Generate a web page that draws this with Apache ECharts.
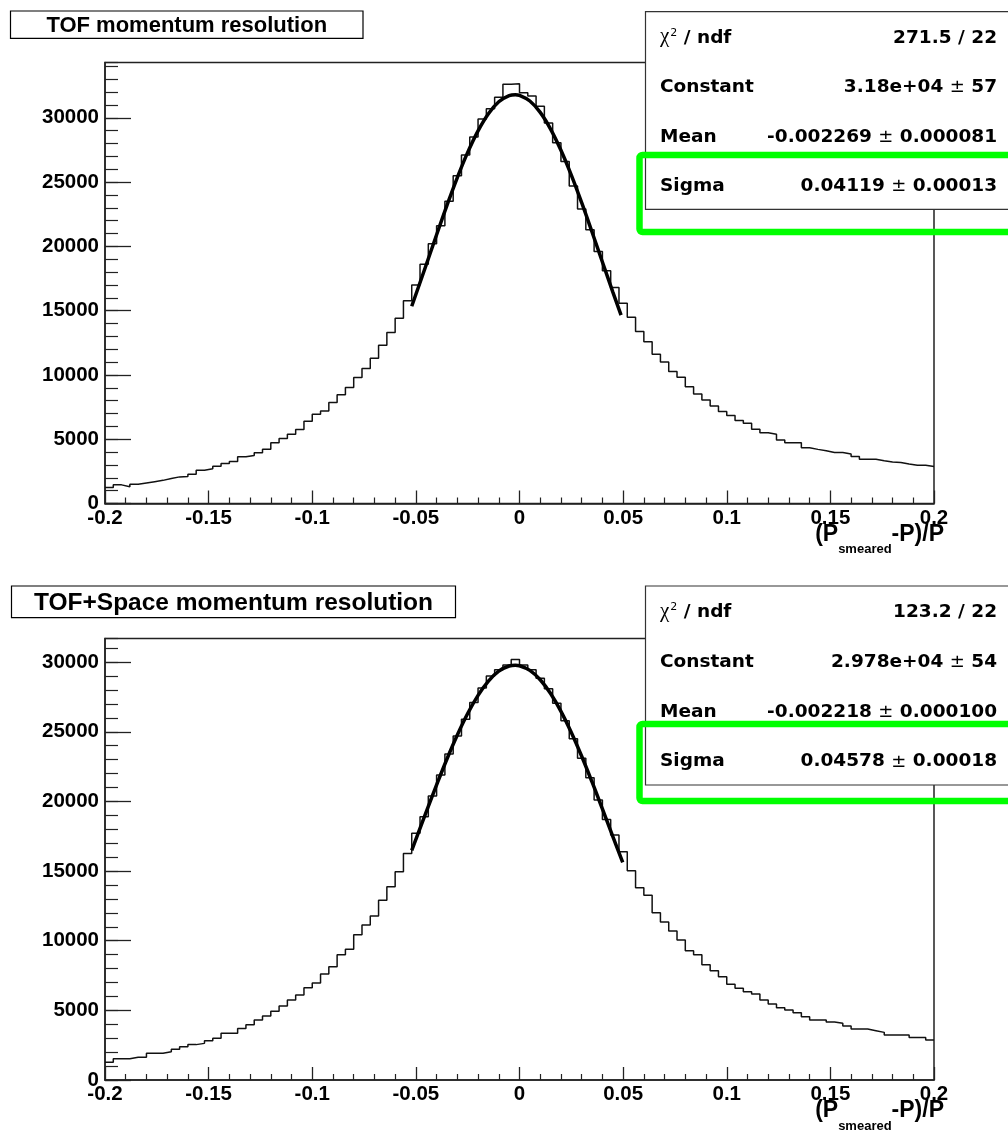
<!DOCTYPE html>
<html><head><meta charset="utf-8">
<script src="https://cdn.jsdelivr.net/npm/echarts@6/dist/echarts.min.js"></script>
<style>html,body{margin:0;padding:0;background:#fff;}#c{width:1008px;height:1132px;}</style>
</head><body><div id="c"></div>
<script>
// ---- data ----
const binLow = -0.2;
const binWidth = 0.004;
const topCounts = [1250,1450,1300,1500,1600,1700,1800,1950,2070,2100,
  2280,2590,2700,2900,3110,3270,3630,3730,3940,4220,
  4720,5050,5390,5760,6400,6950,7200,7860,8450,9030,
  9800,10500,11300,12300,13300,14410,15760,17000,18600,20200,
  21600,23500,25500,27100,28500,29900,30700,31600,32600,32650,
  31950,31700,30900,29600,28050,26600,24700,22900,21300,19600,
  18100,16800,15580,14490,13370,12590,11610,11010,10260,9820,
  9090,8520,8050,7590,7150,6840,6450,6240,5770,5510,
  5380,4940,4730,4730,4340,4210,4110,3960,3960,3850,
  3650,3440,3440,3330,3230,3180,3070,2970,2970,2870];
const bottomCounts = [1270,1530,1530,1630,1630,1915,1915,2030,2200,2390,
  2540,2630,2820,2990,3350,3350,3690,3970,4310,4590,
  4930,5310,5740,6100,6630,6960,7610,8140,9000,9380,
  10430,11130,11770,12900,13880,14950,16270,17710,18900,20400,
  21900,23400,24700,25900,27100,28150,29000,29450,29800,30200,
  29800,29450,28850,28100,27050,25800,24500,23100,21700,20100,
  18700,17600,16390,15030,13810,13260,12010,11340,10700,10050,
  9285,9000,8280,7850,7420,6870,6580,6340,6170,5740,
  5460,5190,5030,4830,4550,4310,4310,4160,4070,3880,
  3660,3660,3540,3420,3230,3230,3230,3060,3060,2870];
const topFitX = [-0.052,-0.045,-0.04,-0.035,-0.03,-0.025,-0.02,-0.015,-0.01,-0.005,-0.002,0,0.005,0.01,0.015,0.02,0.025,0.03,0.035,0.04,0.045,0.049];
const topFitY = [15340,18568,20905,23192,25354,27310,28986,30318,31244,31730,31800,31752,31307,30420,29125,27476,25542,23395,21115,18781,16463,14657];
const bottomFitX = [-0.052,-0.045,-0.04,-0.035,-0.03,-0.025,-0.02,-0.015,-0.01,-0.005,-0.002,0,0.005,0.01,0.015,0.02,0.025,0.03,0.035,0.04,0.045,0.0498];
const bottomFitY = [16490,19244,21185,23047,24771,26314,27618,28643,29354,29725,29780,29745,29411,28738,27746,26472,24956,23249,21400,19464,17496,15622];
const topTitle = 'TOF momentum resolution';
const bottomTitle = 'TOF+Space momentum resolution';
const xTitleParts = ['(P', 'smeared', '-P)/P'];
const statLabels = ['chi2', 'Constant', 'Mean', 'Sigma'];
const topStatValues = ['271.5 / 22', '3.18e+04 ± 57', '-0.002269 ± 0.000081', '0.04119 ± 0.00013'];
const bottomStatValues = ['123.2 / 22', '2.978e+04 ± 54', '-0.002218 ± 0.000100', '0.04578 ± 0.00018'];
const xMin = -0.2, xMax = 0.2;
const topYMax = 34300, bottomYMax = 31700;

// ---- helpers ----
const SANS = 'Liberation Sans, Arial, sans-serif';
const STAT = 'DejaVu Sans, sans-serif';
const INK = '#111';
const FRAME = '#222';

function histData(counts) {
  const d = counts.map((v, i) => [+(binLow + i * binWidth).toFixed(4), v]);
  d.push([xMax, counts[counts.length - 1]]);
  return d;
}
function zip(xs, ys) { return xs.map((x, i) => [x, ys[i]]); }

function xAxisOpt(gridIndex) {
  return {
    type: 'value', gridIndex, min: xMin, max: xMax, interval: 0.05,
    axisLine: { show: true, onZero: false, lineStyle: { color: FRAME, width: 1.5 } },
    axisTick: { show: true, inside: true, length: 13, lineStyle: { color: FRAME, width: 1.3 } },
    minorTick: { show: true, splitNumber: 5, length: 6, lineStyle: { color: FRAME, width: 1.2 } },
    splitLine: { show: false },
    axisLabel: { color: '#000', fontFamily: SANS, fontWeight: 'bold', fontSize: 20.5, margin: 4,
      formatter: v => String(+v.toFixed(3)) }
  };
}
function yAxisMain(gridIndex, max) {
  return {
    type: 'value', gridIndex, position: 'left', min: 0, max, interval: 5000,
    axisLine: { show: true, onZero: false, lineStyle: { color: FRAME, width: 1.5 } },
    axisTick: { show: true, inside: true, length: 26, lineStyle: { color: FRAME, width: 1.3 } },
    splitLine: { show: false },
    axisLabel: { color: '#000', fontFamily: SANS, fontWeight: 'bold', fontSize: 20.5, margin: 6,
      showMaxLabel: false, formatter: v => String(v) }
  };
}
function yAxisMinor(gridIndex, max) {
  return {
    type: 'value', gridIndex, position: 'left', offset: 0, min: 0, max, interval: 1000,
    axisLine: { show: false, onZero: false },
    axisTick: { show: true, inside: true, length: 13, lineStyle: { color: FRAME, width: 1.2 } },
    splitLine: { show: false }, axisLabel: { show: false }
  };
}

function statText(v) {
  const parts = v.split(' ± ');
  if (parts.length === 2) return '{v|' + parts[0] + ' }{pm|±}{v| ' + parts[1] + '}';
  return '{v|' + v + '}';
}
function labelText(l) {
  if (l === 'chi2') return '{c|χ}{sup|2}{b| / ndf}';
  return '{b|' + l + '}';
}
const richStat = {
  b: { fontFamily: STAT, fontWeight: 'bold', fontSize: 18.5, lineHeight: 22, color: '#000', verticalAlign: 'bottom' },
  v: { fontFamily: STAT, fontWeight: 'bold', fontSize: 18.5, lineHeight: 22, color: '#000', verticalAlign: 'bottom' },
  pm: { fontFamily: 'DejaVu Sans, sans-serif', fontWeight: 'normal', fontSize: 18, lineHeight: 22, color: '#000', verticalAlign: 'bottom' },
  c: { fontFamily: 'Liberation Serif, serif', fontWeight: 'normal', fontSize: 21, lineHeight: 22, color: '#000', verticalAlign: 'bottom' },
  sup: { fontFamily: STAT, fontWeight: 'normal', fontSize: 11, lineHeight: 12, padding: [0, 0, 9, 1], color: '#000', verticalAlign: 'bottom' }
};
const richAxisTitle = {
  a: { fontFamily: SANS, fontWeight: 'bold', fontSize: 23, lineHeight: 26, color: '#000', verticalAlign: 'top' },
  s: { fontFamily: SANS, fontWeight: 'bold', fontSize: 13, lineHeight: 13, color: '#000', verticalAlign: 'top', padding: [20, 0, 0, 0] }
};

function statsBox(y0, h, values) {
  const els = [];
  els.push({ type: 'rect', z: 100, shape: { x: 645.5, y: y0, width: 420, height: h },
    style: { fill: '#fff', stroke: '#333', lineWidth: 1.2 } });
  for (let i = 0; i < 4; i++) {
    const cy = y0 + h / 8 * (2 * i + 1);
    els.push({ type: 'text', z: 101, x: 660, y: cy,
      style: { text: labelText(statLabels[i]), rich: richStat, align: 'left', verticalAlign: 'middle' } });
    els.push({ type: 'text', z: 101, x: 997, y: cy,
      style: { text: statText(values[i]), rich: richStat, align: 'right', verticalAlign: 'middle' } });
  }
  return els;
}
function titleBox(x, y, w, h, text, size) {
  return [
    { type: 'rect', z: 100, shape: { x, y, width: w, height: h },
      style: { fill: '#fff', stroke: '#000', lineWidth: 1.2 } },
    { type: 'text', z: 101, x: x + w / 2, y: y + h / 2 + 1,
      style: { text, fontFamily: SANS, fontWeight: 'bold', fontSize: size, fill: '#000', align: 'center', verticalAlign: 'middle' } }
  ];
}
function axisTitle(y) {
  return { type: 'text', z: 101, x: 944, y,
    style: { text: '{a|' + xTitleParts[0] + '}{s|' + xTitleParts[1] + '}{a|' + xTitleParts[2] + '}',
      rich: richAxisTitle, align: 'right', verticalAlign: 'top' } };
}
function greenBox(y, h) {
  return { type: 'rect', z: 110, shape: { x: 639.5, y, width: 420, height: h, r: 3 },
    style: { fill: 'none', stroke: '#00ff00', lineWidth: 6.5 } };
}

const chart = echarts.init(document.getElementById('c'), null, { renderer: 'canvas' });
chart.setOption({
  animation: false,
  backgroundColor: '#fff',
  grid: [
    { left: 105, top: 62.5, width: 829, height: 441, show: true, borderColor: FRAME, borderWidth: 1.5,
      backgroundColor: 'transparent', containLabel: false, outerBoundsMode: 'none' },
    { left: 105, top: 638.5, width: 829, height: 441.5, show: true, borderColor: FRAME, borderWidth: 1.5,
      backgroundColor: 'transparent', containLabel: false, outerBoundsMode: 'none' }
  ],
  xAxis: [xAxisOpt(0), xAxisOpt(1)],
  yAxis: [yAxisMain(0, topYMax), yAxisMinor(0, topYMax), yAxisMain(1, bottomYMax), yAxisMinor(1, bottomYMax)],
  series: [
    { type: 'line', xAxisIndex: 0, yAxisIndex: 0, step: 'end', data: histData(topCounts), showSymbol: false, symbol: 'none',
      lineStyle: { color: INK, width: 1.5 } },
    { type: 'line', xAxisIndex: 0, yAxisIndex: 0, smooth: 0.4, data: zip(topFitX, topFitY), showSymbol: false, symbol: 'none',
      lineStyle: { color: '#000', width: 3.5 } },
    { type: 'line', xAxisIndex: 1, yAxisIndex: 2, step: 'end', data: histData(bottomCounts), showSymbol: false, symbol: 'none',
      lineStyle: { color: INK, width: 1.5 } },
    { type: 'line', xAxisIndex: 1, yAxisIndex: 2, smooth: 0.4, data: zip(bottomFitX, bottomFitY), showSymbol: false, symbol: 'none',
      lineStyle: { color: '#000', width: 3.5 } }
  ],
  graphic: [].concat(
    titleBox(10.5, 11, 352.5, 27.3, topTitle, 22),
    titleBox(11.5, 586, 444, 31.7, bottomTitle, 24.5),
    statsBox(11.7, 197.6, topStatValues),
    statsBox(586, 199, bottomStatValues),
    [axisTitle(523), axisTitle(1099.5)],
    [greenBox(155, 77), greenBox(724, 77)]
  )
});
</script></body></html>
